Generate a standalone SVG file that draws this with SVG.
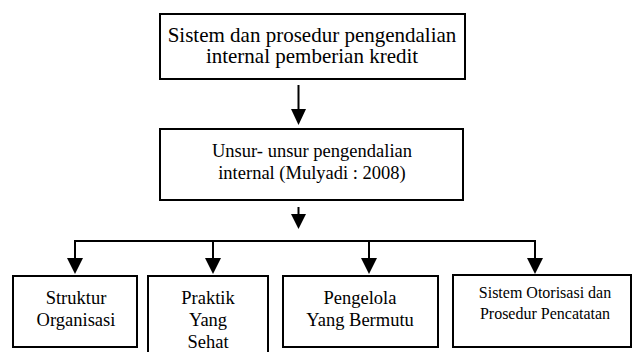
<svg xmlns="http://www.w3.org/2000/svg" width="633" height="352" viewBox="0 0 633 352">
<style>
.box{fill:#fff;stroke:#000;stroke-width:2}
.ln{stroke:#000;stroke-width:2;fill:none}
.ah{fill:#000;stroke:none}
</style>
<rect width="633" height="352" fill="#fff"/>
<g id="connectors">
<line class="ln" x1="298.5" y1="85" x2="298.5" y2="112"/>
<polygon class="ah" points="291,109 306,109 298.5,125"/>
<line class="ln" x1="298.5" y1="207" x2="298.5" y2="218"/>
<polygon class="ah" points="291,214 306,214 298.5,229"/>
<polyline class="ln" points="75,260 75,241 535,241 535,260"/>
<line class="ln" x1="213" y1="241" x2="213" y2="260"/>
<line class="ln" x1="369" y1="241" x2="369" y2="260"/>
<polygon class="ah" points="67,258 83,258 75,274"/>
<polygon class="ah" points="205,258 221,258 213,274"/>
<polygon class="ah" points="361,258 377,258 369,274"/>
<polygon class="ah" points="527,258 543,258 535,274"/>
</g>
<g id="n1">
<rect class="box" x="160" y="14" width="305" height="65"/>
<text font-family="Liberation Serif" text-anchor="middle" x="312" y="42" font-size="21">Sistem dan prosedur pengendalian</text>
<text font-family="Liberation Serif" text-anchor="middle" x="312" y="63" font-size="21">internal pemberian kredit</text>
</g>
<g id="n2">
<rect class="box" x="160" y="129" width="303" height="71"/>
<text font-family="Liberation Serif" text-anchor="middle" x="312" y="157" font-size="18.5">Unsur- unsur pengendalian</text>
<text font-family="Liberation Serif" text-anchor="middle" x="312" y="179" font-size="18.5">internal (Mulyadi : 2008)</text>
</g>
<g id="n3">
<rect class="box" x="13" y="276" width="124" height="71"/>
<text font-family="Liberation Serif" text-anchor="middle" x="76" y="304" font-size="18.5">Struktur</text>
<text font-family="Liberation Serif" text-anchor="middle" x="76" y="326" font-size="18.5">Organisasi</text>
</g>
<g id="n4">
<rect class="box" x="148" y="276" width="120" height="80"/>
<text font-family="Liberation Serif" text-anchor="middle" x="208" y="304" font-size="18.5">Praktik</text>
<text font-family="Liberation Serif" text-anchor="middle" x="208" y="326" font-size="18.5">Yang</text>
<text font-family="Liberation Serif" text-anchor="middle" x="208" y="348" font-size="18.5">Sehat</text>
</g>
<g id="n5">
<rect class="box" x="283" y="276" width="155" height="71"/>
<text font-family="Liberation Serif" text-anchor="middle" x="360" y="304" font-size="18.5">Pengelola</text>
<text font-family="Liberation Serif" text-anchor="middle" x="360" y="326" font-size="18.5">Yang Bermutu</text>
</g>
<g id="n6">
<rect class="box" x="453" y="275" width="178" height="72"/>
<text font-family="Liberation Serif" text-anchor="middle" x="545" y="298" font-size="16">Sistem Otorisasi dan</text>
<text font-family="Liberation Serif" text-anchor="middle" x="545" y="319" font-size="16">Prosedur Pencatatan</text>
</g>
</svg>
